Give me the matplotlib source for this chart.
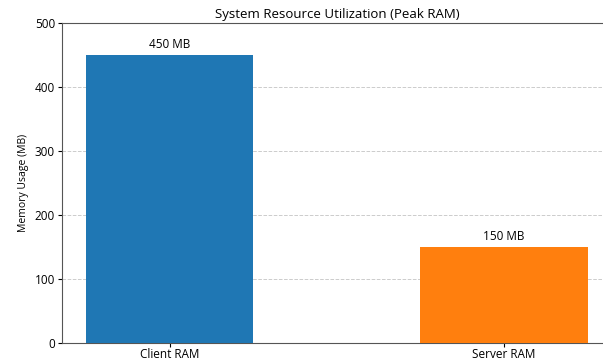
import matplotlib
matplotlib.use("Agg")
import matplotlib.pyplot as plt

categories = ["Client RAM", "Server RAM"]
values = [450, 150]
labels = ["450 MB", "150 MB"]
colors = ["#1f77b4", "#ff7f0e"]
yticks = [0, 100, 200, 300, 400, 500]

plt.rcParams['font.family'] = ['Open Sans', 'DejaVu Sans']

fig = plt.figure(figsize=(6.03, 3.61), dpi=100)
ax = fig.add_axes([0.1028, 0.0499, 0.912, 0.886])
x = list(range(len(categories)))
bars = ax.bar(x, values, width=0.5, color=colors, zorder=3)
for b, lab in zip(bars, labels):
    ax.text(b.get_x() + b.get_width() / 2, b.get_height() + 6, lab,
            ha='center', va='bottom', fontsize=8.5)
ax.set_xticks(x)
ax.set_xticklabels(categories, fontsize=8.5)
ax.tick_params(axis='x', length=3, pad=0.5)
ax.set_yticks(yticks)
ax.tick_params(axis='y', labelsize=8.5, length=3, pad=2)
ax.set_ylim(0, 500)
ax.set_xlim(-0.323, 1.323)
ax.set_ylabel("Memory Usage (MB)", fontsize=7.5)
ax.set_title("System Resource Utilization (Peak RAM)", fontsize=9.5, pad=4)
ax.yaxis.grid(True, linestyle='--', color='#cccccc', linewidth=0.7, zorder=0)
for s in ax.spines.values():
    s.set_color('#555555')
fig.savefig("out.png", dpi=100)
